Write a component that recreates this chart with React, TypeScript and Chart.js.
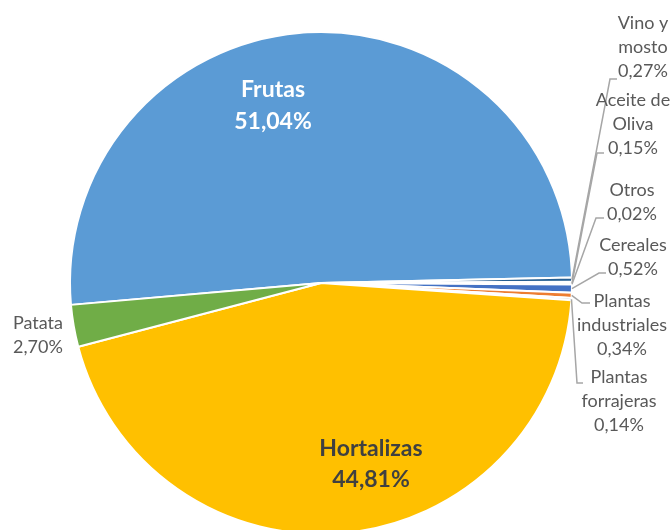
import React, { useEffect, useRef } from "react";
import { Chart, registerables } from "chart.js";

Chart.register(...registerables);

const CATEGORIES = [
  "Frutas",
  "Vino y mosto",
  "Aceite de Oliva",
  "Otros",
  "Cereales",
  "Plantas industriales",
  "Plantas forrajeras",
  "Hortalizas",
  "Patata",
];
const SHARES = [51.04, 0.27, 0.15, 0.02, 0.52, 0.34, 0.14, 44.81, 2.7];
const COLORS = [
  "#5B9BD5",
  "#255E91",
  "#A5A5A5",
  "#9E480E",
  "#4472C4",
  "#ED7D31",
  "#A5A5A5",
  "#FFC000",
  "#70AD47",
];
const LABEL_LINES = [
  ["Frutas"],
  ["Vino y", "mosto"],
  ["Aceite de", "Oliva"],
  ["Otros"],
  ["Cereales"],
  ["Plantas", "industriales"],
  ["Plantas", "forrajeras"],
  ["Hortalizas"],
  ["Patata"],
];

// label layout, offsets relative to the pie centre
type LabelLayout = {
  dx: number;
  dy: number;
  lh: number;
  bold: boolean;
  color: string;
  leader?: [number, number, number];
};
const LABEL_LAYOUT: LabelLayout[] = [
  { dx: -48, dy: -193, lh: 32, bold: true, color: "#FFFFFF" },
  { dx: 322, dy: -260, lh: 24, bold: false, color: "#595959", leader: [289, -204, 296] },
  { dx: 312, dy: -183, lh: 24, bold: false, color: "#595959", leader: [276, -130, 283] },
  { dx: 311, dy: -93, lh: 24, bold: false, color: "#595959", leader: [275, -65, 283] },
  { dx: 312, dy: -38, lh: 24, bold: false, color: "#595959", leader: [278, -10, 285] },
  { dx: 301, dy: 18, lh: 24, bold: false, color: "#595959", leader: [261, 20, 269] },
  { dx: 298, dy: 94, lh: 24, bold: false, color: "#595959", leader: [256, 100, 262] },
  { dx: 50, dy: 166, lh: 31, bold: true, color: "#404040" },
  { dx: -283, dy: 40, lh: 24, bold: false, color: "#595959" },
];

const fmt = (v: number) => v.toFixed(2).replace(".", ",") + "%";

const labelPlugin = {
  id: "excelLabels",
  afterDatasetsDraw(chart: any) {
    const meta = chart.getDatasetMeta(0);
    const ctx = chart.ctx as CanvasRenderingContext2D;
    ctx.save();
    meta.data.forEach((arc: any, i: number) => {
      const lay = LABEL_LAYOUT[i];
      const cx = arc.x;
      const cy = arc.y;
      const lines = [...LABEL_LINES[i], fmt(SHARES[i])];
      if (lay.leader) {
        const mid = (arc.startAngle + arc.endAngle) / 2;
        const r = arc.outerRadius;
        const sx = cx + Math.cos(mid) * r;
        const sy = cy + Math.sin(mid) * r;
        ctx.strokeStyle = "#A6A6A6";
        ctx.lineWidth = 1.5;
        ctx.beginPath();
        ctx.moveTo(sx, sy);
        ctx.lineTo(cx + lay.leader[0], cy + lay.leader[1]);
        ctx.lineTo(cx + lay.leader[2], cy + lay.leader[1]);
        ctx.stroke();
      }
      ctx.fillStyle = lay.color;
      ctx.textAlign = "center";
      ctx.textBaseline = "middle";
      ctx.font = lay.bold ? "bold 23px Lato" : "18px Lato";
      lines.forEach((t, k) => {
        ctx.fillText(t, cx + lay.dx, cy + lay.dy + k * lay.lh);
      });
    });
    ctx.restore();
  },
};

export default function App() {
  const ref = useRef<HTMLCanvasElement | null>(null);
  useEffect(() => {
    document.body.style.margin = "0";
    if (!ref.current) return;
    const chart = new Chart(ref.current, {
      type: "pie",
      data: {
        labels: CATEGORIES,
        datasets: [
          {
            data: SHARES,
            backgroundColor: COLORS,
            borderColor: "#FFFFFF",
            borderWidth: 2,
            clip: false,
          } as any,
        ],
      },
      options: {
        responsive: false,
        animation: false,
        devicePixelRatio: 1,
        rotation: 265,
        radius: 251,
        layout: { padding: { left: 0, right: 28, top: 36, bottom: 0 } },
        plugins: {
          legend: { display: false },
          tooltip: { enabled: false },
        },
      } as any,
      plugins: [labelPlugin],
    });
    return () => chart.destroy();
  }, []);
  return (
    <div style={{ width: 670, height: 530, background: "#FFFFFF" }}>
      <canvas ref={ref} width={670} height={530} />
    </div>
  );
}
